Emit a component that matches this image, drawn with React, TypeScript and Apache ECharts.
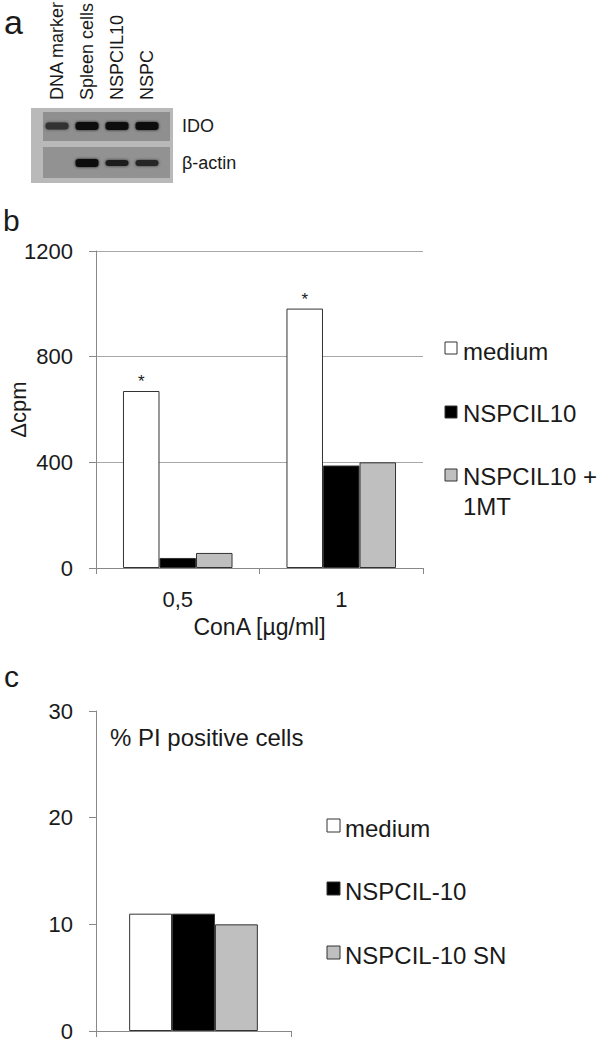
import React, { useEffect, useRef } from "react";
import * as echarts from "echarts";

// ---- Panel b data ----
const concCategories = ["0,5", "1"];
const mediumB = [670, 982];
const nspcil10B = [38, 388];
const nspcil10MtB = [57, 400];
const significantB = [true, true];
const yMinB = 0;
const yMaxB = 1200;
const yStepB = 400;

// ---- Panel c data ----
const cCategories = [""];
const mediumC = [11];
const nspcil10C = [11];
const nspcil10SnC = [10];
const yMinC = 0;
const yMaxC = 30;
const yStepC = 10;

// ---- Panel a (gel) ----
const laneNames = ["DNA marker", "Spleen cells", "NSPCIL10", "NSPC"];
const geneRows = ["IDO", "β-actin"];
// band intensity per row/lane (0 = none, 1 = strongest)
const bandIDO = [0.55, 1, 1, 1];
const bandActin = [0, 1, 0.8, 0.7];

const FONT = "'Liberation Sans', Arial, sans-serif";
const TXT = "#1a1a1a";

export default function App() {
  const ref = useRef<HTMLDivElement>(null);

  useEffect(() => {
    document.body.style.margin = "0";
    if (!ref.current) return;
    const chart = echarts.init(ref.current, null, { renderer: "svg" });

    const barStyle = (color: string) => ({
      color,
      borderColor: "#333",
      borderWidth: 1,
    });

    // gel geometry
    const laneX = [57, 87, 117, 147];
    const rowY = [126, 163];
    const rowBands = [bandIDO, bandActin];
    const bandW = [23, 23, 23, 23];
    const bandH = [[7, 8, 8, 8], [0, 8, 6, 6]];

    const gel: any[] = [
      { type: "rect", shape: { x: 31, y: 108, width: 142, height: 75 }, style: { fill: "#b9b9b9" } },
      { type: "rect", shape: { x: 43, y: 112, width: 127, height: 29 }, style: { fill: "#8f8f8f" } },
      { type: "rect", shape: { x: 43, y: 147, width: 127, height: 31 }, style: { fill: "#929292" } },
    ];
    rowBands.forEach((row, r) => {
      row.forEach((v, l) => {
        if (v <= 0) return;
        const h = bandH[r][l];
        const shade = Math.round(90 - v * 75);
        gel.push({
          type: "rect",
          shape: { x: laneX[l] - bandW[l] / 2, y: rowY[r] - h / 2, width: bandW[l], height: h, r: 3 },
          style: {
            fill: `rgb(${shade},${shade},${shade})`,
            shadowBlur: 3,
            shadowColor: `rgba(${shade},${shade},${shade},0.8)`,
          },
        });
      });
    });
    laneNames.forEach((name, i) => {
      gel.push({
        type: "text",
        x: laneX[i],
        y: 100,
        rotation: Math.PI / 2,
        style: {
          text: name,
          font: `18px ${FONT}`,
          fill: TXT,
          align: "left",
          verticalAlign: "middle",
          textAlign: "left",
          textVerticalAlign: "middle",
        },
      });
    });
    geneRows.forEach((name, i) => {
      gel.push({
        type: "text",
        x: 182,
        y: rowY[i],
        style: {
          text: name,
          font: `18px ${FONT}`,
          fill: TXT,
          align: "left",
          verticalAlign: "middle",
          textAlign: "left",
          textVerticalAlign: "middle",
        },
      });
    });

    const txt = (text: string, x: number, y: number, size: number, extra: any = {}) => ({
      type: "text",
      x,
      y,
      style: {
        text,
        font: `${size}px ${FONT}`,
        fill: TXT,
        align: "left",
        verticalAlign: "middle",
        textAlign: "left",
        textVerticalAlign: "middle",
        ...extra,
      },
    });

    const sq = (x: number, y: number, s: number, fill: string) => ({
      type: "rect",
      shape: { x, y, width: s, height: s },
      style: { fill, stroke: "#333", lineWidth: 1 },
    });

    const legendB = [
      sq(445, 342, 12, "#ffffff"),
      txt("medium", 463, 351, 24),
      sq(445, 406, 12, "#000000"),
      txt("NSPCIL10", 463, 413, 24),
      sq(445, 469, 12, "#bfbfbf"),
      txt("NSPCIL10 +", 463, 476, 24),
      txt("1MT", 463, 506, 24),
    ];
    const legendC = [
      sq(327, 819, 13, "#ffffff"),
      txt("medium", 345, 828, 24),
      sq(327, 882, 13, "#000000"),
      txt("NSPCIL-10", 345, 891, 24),
      sq(327, 946, 13, "#bfbfbf"),
      txt("NSPCIL-10 SN", 345, 955, 24),
    ];

    const panelLabels = [
      txt("a", 4, 22, 34),
      txt("b", 3, 220, 30),
      txt("c", 4, 676, 30),
      txt("% PI positive cells", 110, 737, 24),
    ];

    const axisLineStyle = { color: "#888", width: 1 };
    const plain = (v: number) => String(v);

    chart.setOption({
      animation: false,
      textStyle: { fontFamily: FONT },
      grid: [
        { left: 96, top: 251, width: 327, height: 317, containLabel: false, outerBoundsMode: "none" },
        { left: 96, top: 711, width: 195, height: 320, containLabel: false, outerBoundsMode: "none" },
      ],
      xAxis: [
        {
          type: "category",
          gridIndex: 0,
          data: concCategories,
          axisLine: { lineStyle: axisLineStyle },
          axisTick: { show: true, length: 6, lineStyle: axisLineStyle },
          axisLabel: { fontSize: 22, color: TXT, margin: 20 },
          name: "ConA [µg/ml]",
          nameLocation: "middle",
          nameGap: 47,
          nameMoveOverlap: false,
          nameTextStyle: { fontSize: 23, color: TXT },
        },
        {
          type: "category",
          gridIndex: 1,
          data: cCategories,
          axisLine: { lineStyle: axisLineStyle },
          axisTick: { show: true, length: 6, lineStyle: axisLineStyle },
          axisLabel: { show: false },
        },
      ],
      yAxis: [
        {
          type: "value",
          gridIndex: 0,
          min: yMinB,
          max: yMaxB,
          interval: yStepB,
          axisLine: { show: true, lineStyle: axisLineStyle },
          axisTick: { show: true, length: 7, lineStyle: axisLineStyle },
          splitLine: { show: true, lineStyle: { color: "#a8a8a8", width: 1 } },
          axisLabel: { fontSize: 22, color: TXT, margin: 23, formatter: plain },
          name: "Δcpm",
          nameLocation: "middle",
          nameGap: 67,
          nameRotate: 90,
          nameMoveOverlap: false,
          nameTextStyle: { fontSize: 22, color: TXT },
        },
        {
          type: "value",
          gridIndex: 1,
          min: yMinC,
          max: yMaxC,
          interval: yStepC,
          axisLine: { show: true, lineStyle: axisLineStyle },
          axisTick: { show: true, length: 7, lineStyle: axisLineStyle },
          splitLine: { show: false },
          axisLabel: { fontSize: 22, color: TXT, margin: 23, formatter: plain },
        },
      ],
      series: [
        {
          name: "medium",
          type: "bar",
          xAxisIndex: 0,
          yAxisIndex: 0,
          barGap: "0%",
          barCategoryGap: "33%",
          itemStyle: barStyle("#ffffff"),
          data: mediumB.map((v, i) => ({
            value: v,
            label: {
              show: significantB[i],
              position: "top",
              formatter: "*",
              distance: 1,
              fontSize: 17,
              color: TXT,
            },
          })),
        },
        {
          name: "NSPCIL10",
          type: "bar",
          xAxisIndex: 0,
          yAxisIndex: 0,
          barGap: "0%",
          barCategoryGap: "33%",
          itemStyle: barStyle("#000000"),
          data: nspcil10B,
        },
        {
          name: "NSPCIL10 + 1MT",
          type: "bar",
          xAxisIndex: 0,
          yAxisIndex: 0,
          barGap: "0%",
          barCategoryGap: "33%",
          itemStyle: barStyle("#bfbfbf"),
          data: nspcil10MtB,
        },
        {
          name: "medium ",
          type: "bar",
          xAxisIndex: 1,
          yAxisIndex: 1,
          barGap: "0%",
          barCategoryGap: "34%",
          itemStyle: barStyle("#ffffff"),
          data: mediumC,
        },
        {
          name: "NSPCIL-10",
          type: "bar",
          xAxisIndex: 1,
          yAxisIndex: 1,
          barGap: "0%",
          barCategoryGap: "34%",
          itemStyle: barStyle("#000000"),
          data: nspcil10C,
        },
        {
          name: "NSPCIL-10 SN",
          type: "bar",
          xAxisIndex: 1,
          yAxisIndex: 1,
          barGap: "0%",
          barCategoryGap: "34%",
          itemStyle: barStyle("#bfbfbf"),
          data: nspcil10SnC,
        },
      ],
      graphic: [...gel, ...legendB, ...legendC, ...panelLabels],
    });

    return () => chart.dispose();
  }, []);

  return <div ref={ref} style={{ width: 600, height: 1043 }} />;
}
